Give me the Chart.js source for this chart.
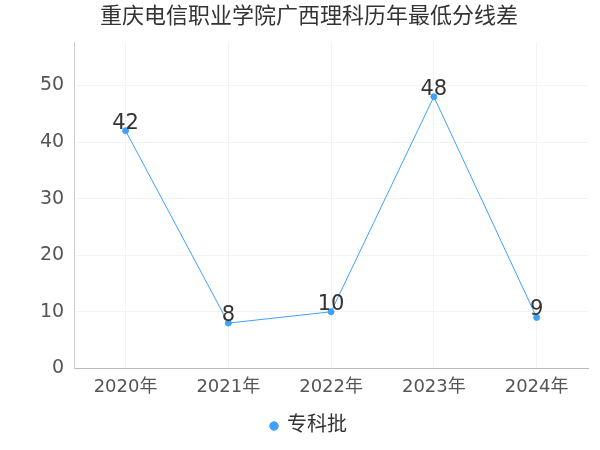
<!DOCTYPE html>
<html><head><meta charset="utf-8">
<script src="https://cdn.jsdelivr.net/npm/chart.js@4/dist/chart.umd.min.js"></script>
<style>body{margin:0;background:#fff}#w{width:600px;height:450px}</style>
</head><body><div id="w"><canvas id="c"></canvas></div>
<script>
const categories = ["2020年","2021年","2022年","2023年","2024年"];
const seriesName = "专科批";
const values = [42, 8, 10, 48, 9];
const font = "'DejaVu Sans','Noto Sans CJK SC',sans-serif";
const labelPlugin = {
  id: 'lbl',
  afterDatasetsDraw(chart) {
    const ctx = chart.ctx, meta = chart.getDatasetMeta(0);
    ctx.save();
    ctx.font = "21px " + font;
    ctx.fillStyle = "#333";
    ctx.textAlign = "center";
    ctx.textBaseline = "bottom";
    meta.data.forEach((p, i) => ctx.fillText(values[i], p.x, p.y + 3));
    ctx.restore();
  }
};
new Chart(document.getElementById('c'), {
  type: 'line',
  data: { labels: categories, datasets: [{
    label: seriesName, data: values, borderColor: '#3fa0ff', backgroundColor: '#3fa0ff',
    borderWidth: 1, pointRadius: 3, pointHoverRadius: 3, tension: 0
  }]},
  options: {
    responsive: true, maintainAspectRatio: false, animation: false,
    layout: { padding: { left: 30, right: 12, top: 0, bottom: 4 } },
    plugins: {
      title: { display: true, text: '重庆电信职业学院广西理科历年最低分线差', color: '#333',
        font: { family: font, size: 22, weight: 'normal' }, padding: { top: 4, bottom: 12 } },
      legend: { position: 'bottom', labels: { usePointStyle: true, pointStyle: 'circle', boxWidth: 6, boxHeight: 6,
        color: '#333', font: { family: font, size: 20 } } },
      tooltip: { enabled: false }
    },
    scales: {
      x: { offset: true, grid: { display: true, color: '#f3f3f3', drawTicks: false },
        border: { color: '#bbb' },
        ticks: { color: '#555', font: { family: font, size: 18 }, padding: 8 } },
      y: { min: 0, max: 57.6, grid: { color: '#f3f3f3', drawTicks: false },
        border: { color: '#ccc' },
        afterBuildTicks: a => { a.ticks = [0,10,20,30,40,50].map(v => ({ value: v })); },
        ticks: { color: '#555', font: { family: font, size: 19 }, padding: 10 } }
    }
  },
  plugins: [labelPlugin]
});
</script></body></html>
